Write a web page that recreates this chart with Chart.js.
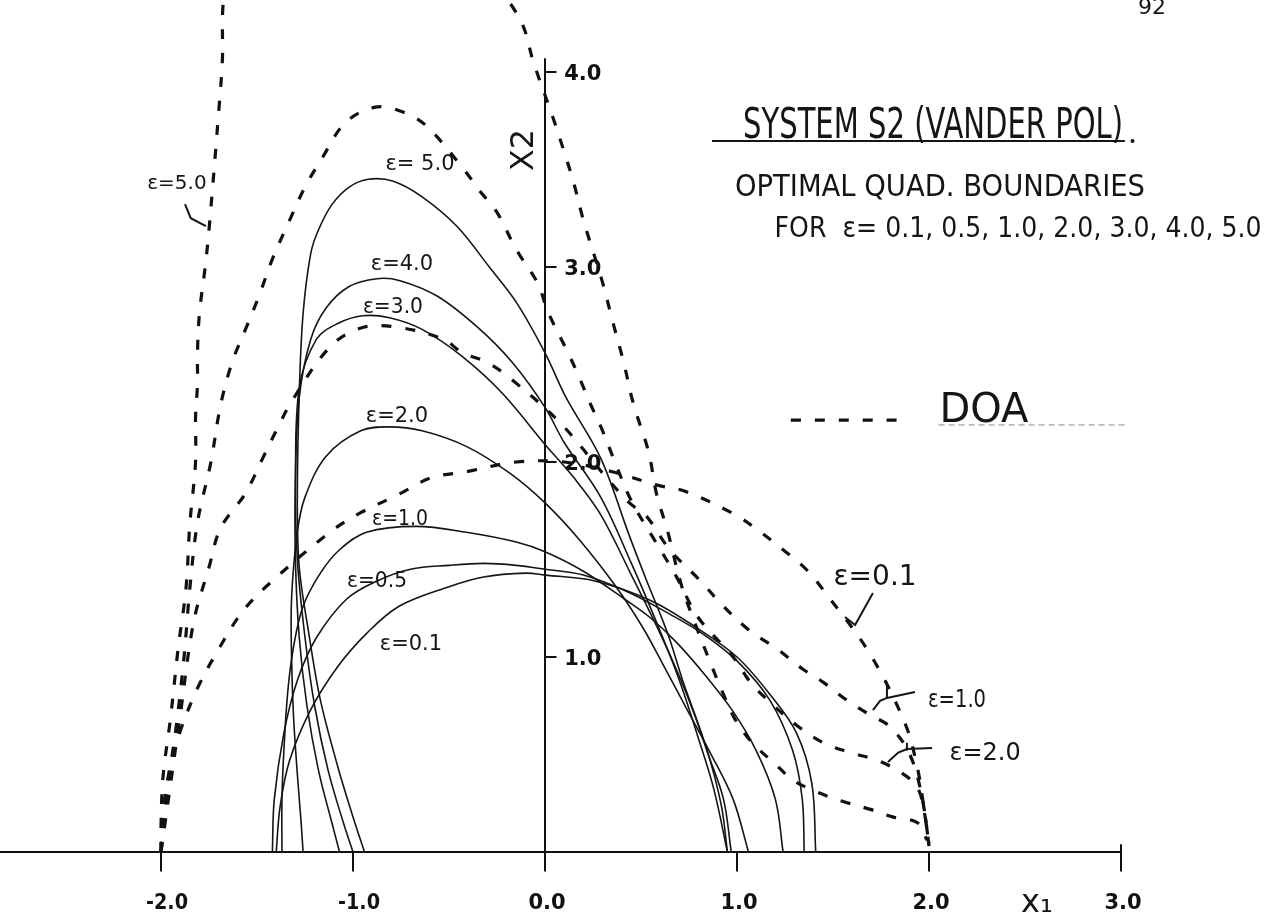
<!DOCTYPE html>
<html>
<head>
<meta charset="utf-8">
<script src="https://cdn.jsdelivr.net/npm/chart.js@4.4.1/dist/chart.umd.min.js"></script>
<style>
  html, body { margin: 0; padding: 0; background: #fff; }
  #grafico { width: 1268px; height: 913px; position: relative; }
</style>
</head>
<body>
<div id="grafico"><canvas id="tela"></canvas></div>
<script>
// curve ottimali (linee continue) per ogni epsilon, punti [x1, x2]
const eps01 = [[-1.40,0],[-1.38,0.23],[-1.33,0.47],[-1.22,0.73],[-1.08,0.95],[-0.93,1.12],[-0.76,1.26],[-0.5,1.36],[-0.32,1.41],[-0.1,1.43],[0,1.42],[0.26,1.39],[0.55,1.29],[0.79,1.15],[1.0,1.0],[1.17,0.81],[1.31,0.61],[1.39,0.35],[1.41,0]];
const eps05 = [[-1.42,0],[-1.41,0.27],[-1.36,0.61],[-1.29,0.88],[-1.19,1.10],[-1.03,1.30],[-0.875,1.39],[-0.70,1.45],[-0.5,1.47],[-0.32,1.48],[-0.15,1.47],[0,1.45],[0.20,1.42],[0.44,1.33],[0.65,1.22],[0.82,1.12],[1.0,0.98],[1.17,0.78],[1.29,0.52],[1.34,0.27],[1.35,0]];
const eps1 = [[-1.37,0],[-1.37,0.27],[-1.36,0.52],[-1.34,0.82],[-1.31,1.05],[-1.26,1.26],[-1.17,1.43],[-1.07,1.55],[-0.93,1.64],[-0.67,1.67],[-0.41,1.64],[-0.15,1.59],[0,1.54],[0.20,1.44],[0.41,1.30],[0.55,1.20],[0.69,1.07],[0.84,0.90],[0.98,0.72],[1.10,0.52],[1.20,0.27],[1.24,0]];
const eps2 = [[-1.26,0],[-1.27,0.15],[-1.29,0.4],[-1.31,0.7],[-1.32,1.0],[-1.32,1.3],[-1.29,1.64],[-1.25,1.82],[-1.14,2.03],[-0.96,2.16],[-0.81,2.18],[-0.64,2.16],[-0.41,2.08],[-0.18,1.94],[0,1.79],[0.18,1.60],[0.37,1.36],[0.51,1.15],[0.61,0.97],[0.74,0.73],[0.86,0.51],[0.98,0.27],[1.06,0]];
const eps3 = [[-1.07,0],[-1.11,0.15],[-1.18,0.42],[-1.24,0.75],[-1.28,1.1],[-1.30,1.5],[-1.30,1.9],[-1.28,2.38],[-1.19,2.63],[-1.08,2.71],[-0.95,2.75],[-0.81,2.74],[-0.64,2.68],[-0.43,2.54],[-0.22,2.35],[0,2.09],[0.15,1.92],[0.29,1.73],[0.45,1.42],[0.60,1.12],[0.70,0.9],[0.78,0.70],[0.85,0.5],[0.93,0.27],[0.97,0]];
const eps4 = [[-1.00,0],[-1.05,0.15],[-1.13,0.42],[-1.20,0.75],[-1.25,1.1],[-1.29,1.5],[-1.30,1.9],[-1.28,2.33],[-1.22,2.63],[-1.14,2.79],[-1.02,2.90],[-0.875,2.94],[-0.755,2.93],[-0.56,2.85],[-0.35,2.69],[-0.17,2.51],[0,2.28],[0.10,2.10],[0.29,1.82],[0.45,1.48],[0.58,1.18],[0.70,0.88],[0.80,0.58],[0.88,0.32],[0.95,0]];
const eps5 = [[-0.94,0],[-1.0,0.18],[-1.08,0.44],[-1.17,0.78],[-1.23,1.12],[-1.28,1.46],[-1.29,1.8],[-1.28,2.35],[-1.26,2.76],[-1.22,3.07],[-1.18,3.19],[-1.11,3.32],[-1.02,3.41],[-0.92,3.45],[-0.79,3.44],[-0.64,3.36],[-0.46,3.21],[-0.29,3.0],[-0.15,2.82],[0,2.56],[0.11,2.33],[0.29,2.02],[0.44,1.62],[0.53,1.39],[0.60,1.22],[0.65,1.09],[0.72,0.87],[0.79,0.68],[0.86,0.47],[0.92,0.23],[0.95,0]];

// DOA (tratteggiate)
const doa01 = [[-2.0,0],[-1.99,0.2],[-1.95,0.45],[-1.90,0.62],[-1.81,0.84],[-1.70,1.04],[-1.57,1.24],[-1.42,1.39],[-1.12,1.64],[-0.96,1.74],[-0.77,1.83],[-0.59,1.92],[-0.41,1.95],[-0.15,2.0],[0.1,2.0],[0.35,1.95],[0.59,1.88],[0.73,1.85],[0.99,1.73],[1.11,1.65],[1.24,1.55],[1.36,1.45],[1.46,1.33],[1.69,1.02],[1.875,0.66],[1.94,0.43],[1.97,0.25],[2.0,0.04]];
const doa1 = [[-2.0,0],[-1.95,0.35],[-1.90,0.7],[-1.83,1.18],[-1.75,1.46],[-1.69,1.66],[-1.56,1.84],[-1.47,2.02],[-1.39,2.18],[-1.32,2.31],[-1.12,2.59],[-0.95,2.69],[-0.76,2.69],[-0.53,2.63],[-0.43,2.56],[-0.30,2.51],[-0.17,2.42],[0.08,2.2],[0.32,1.92],[0.44,1.79],[0.53,1.72],[0.65,1.55],[0.82,1.38],[0.91,1.28],[1.06,1.14],[1.21,1.04],[1.34,0.94],[1.45,0.87],[1.57,0.78],[1.68,0.71],[1.80,0.64],[1.90,0.5],[1.96,0.3],[2.0,0.04]];
const doa2 = [[-2.0,0],[-1.97,0.3],[-1.92,0.65],[-1.88,1.0],[-1.85,1.35],[-1.81,1.69],[-1.74,2.0],[-1.69,2.29],[-1.63,2.51],[-1.56,2.68],[-1.49,2.85],[-1.42,3.04],[-1.33,3.24],[-1.25,3.41],[-1.16,3.56],[-1.04,3.74],[-0.885,3.82],[-0.755,3.80],[-0.625,3.73],[-0.43,3.51],[-0.34,3.39],[-0.25,3.28],[-0.15,3.09],[-0.04,2.92],[0.02,2.76],[0.12,2.56],[0.18,2.43],[0.24,2.29],[0.30,2.16],[0.36,2.01],[0.45,1.80],[0.57,1.60],[0.68,1.42],[0.80,1.20],[0.98,1.0],[1.07,0.87],[1.17,0.77],[1.31,0.65],[1.45,0.56],[1.59,0.51],[1.73,0.47],[1.85,0.41],[1.94,0.33],[1.98,0.18],[2.0,0.03]];
const doa5Sinistra = [[-2.0,0],[-2.0,0.13],[-1.99,0.38],[-1.95,0.69],[-1.91,1.05],[-1.87,1.35],[-1.85,1.68],[-1.82,2.0],[-1.82,2.23],[-1.81,2.40],[-1.81,2.56],[-1.80,2.76],[-1.77,3.0],[-1.75,3.19],[-1.70,3.79],[-1.68,4.07],[-1.68,4.28],[-1.67,4.45]];
const doa5Destra = [[-0.25,4.45],[-0.12,4.25],[-0.06,4.05],[0.04,3.77],[0.10,3.59],[0.15,3.43],[0.20,3.24],[0.30,2.92],[0.35,2.73],[0.41,2.51],[0.46,2.30],[0.54,2.05],[0.58,1.84],[0.64,1.64],[0.71,1.37],[0.79,1.15],[0.87,0.95],[0.92,0.83],[0.99,0.68],[1.08,0.56],[1.20,0.45],[1.29,0.37],[1.41,0.31],[1.55,0.26],[1.69,0.22],[1.81,0.18],[1.94,0.15],[1.99,0.06]];
const legendaDOA = [[1.28,2.215],[1.87,2.215]];

// assi
const xTicks = [-2, -1, 0, 1, 2, 3];
const xTickLabels = ['-2.0', '-1.0', '0.0', '1.0', '2.0', '3.0'];
const yTicks = [1, 2, 3, 4];
const yTickLabels = ['1.0', '2.0', '3.0', '4.0'];

// testi: [testo, x, y (linea di base, unita del grafico), dimensione, larghezza max]
const etichette = [
  ['ε= 5.0', -0.651, 3.497, 21, 76],
  ['ε=4.0', -0.745, 2.985, 21, 70],
  ['ε=3.0', -0.792, 2.764, 21, 60],
  ['ε=2.0', -0.771, 2.205, 21, 68],
  ['ε=1.0', -0.755, 1.677, 21, 56],
  ['ε=0.5', -0.875, 1.359, 21, 60],
  ['ε=0.1', -0.698, 1.036, 21, 64],
  ['ε=5.0', -1.917, 3.40, 20, 72],
  ['ε=0.1', 1.719, 1.369, 28, 90],
  ['ε=1.0', 2.146, 0.744, 24, 58],
  ['ε=2.0', 2.292, 0.472, 24, 76],
  ['DOA', 2.286, 2.205, 40, 90],
  ['SYSTEM S2 (VANDER POL)', 2.021, 3.66, 42, 380],
  ['OPTIMAL QUAD. BOUNDARIES', 2.057, 3.364, 31, 410],
  ['FOR  ε= 0.1, 0.5, 1.0, 2.0, 3.0, 4.0, 5.0', 2.464, 3.154, 28, 487],
  ['92', 3.161, 4.30, 22, 30],
  ['x₁', 2.5625, -0.31, 32, 40]
];

// frecce / richiami
const richiami = [
  [[-1.875,3.323],[-1.845,3.25],[-1.766,3.21]],
  [[1.5625,1.205],[1.615,1.164],[1.708,1.328]],
  [[1.708,0.728],[1.745,0.775],[1.781,0.790],[1.927,0.821]],
  [[1.781,0.872],[1.781,0.795]],
  [[1.786,0.462],[1.84,0.51],[1.885,0.528],[2.016,0.533]],
  [[1.885,0.56],[1.885,0.52]]
];

function punti(arr) {
  return arr.map(p => ({ x: p[0], y: p[1] }));
}

function continua(arr) {
  return { data: punti(arr), showLine: true, borderColor: '#151515', borderWidth: 1.6, pointRadius: 0, tension: 0.35, fill: false };
}

function tratteggio(arr) {
  return { data: punti(arr), showLine: true, borderColor: '#111', borderWidth: 3.2, borderDash: [10, 14], pointRadius: 0, tension: 0.35, fill: false };
}

const assiPlugin = {
  id: 'assi',
  beforeDatasetsDraw(chart) {
    const ctx = chart.ctx;
    const sx = chart.scales.x, sy = chart.scales.y;
    const X = v => sx.getPixelForValue(v), Y = v => sy.getPixelForValue(v);
    ctx.save();
    ctx.strokeStyle = '#111';
    ctx.lineWidth = 2;
    ctx.beginPath();
    ctx.moveTo(0, Y(0)); ctx.lineTo(X(3), Y(0));
    ctx.moveTo(X(0), Y(4.07)); ctx.lineTo(X(0), Y(-0.1));
    xTicks.forEach(t => {
      ctx.moveTo(X(t), Y(t === 3 ? 0.04 : 0)); ctx.lineTo(X(t), Y(-0.1));
    });
    yTicks.forEach(t => {
      ctx.moveTo(X(0), Y(t)); ctx.lineTo(X(0.06), Y(t));
    });
    ctx.stroke();
    // etichette dei tick
    ctx.fillStyle = '#111';
    ctx.font = 'bold 21px "DejaVu Sans"';
    ctx.textAlign = 'center';
    ctx.textBaseline = 'alphabetic';
    xTicks.forEach((t, i) => {
      ctx.fillText(xTickLabels[i], X(t) + (t < 0 ? 6 : 2), Y(-0.29), 42);
    });
    ctx.textAlign = 'left';
    yTicks.forEach((t, i) => {
      ctx.fillText(yTickLabels[i], X(0.1), Y(t) + 8, 40);
    });
    ctx.restore();
  },
  afterDatasetsDraw(chart) {
    const ctx = chart.ctx;
    const sx = chart.scales.x, sy = chart.scales.y;
    const X = v => sx.getPixelForValue(v), Y = v => sy.getPixelForValue(v);
    ctx.save();
    ctx.fillStyle = '#151515';
    ctx.strokeStyle = '#151515';
    ctx.textAlign = 'center';
    etichette.forEach(e => {
      ctx.font = e[3] + 'px "DejaVu Sans"';
      ctx.fillText(e[0], X(e[1]), Y(e[2]), e[4]);
    });
    // X2 ruotato
    ctx.save();
    ctx.translate(X(-0.06), Y(3.6));
    ctx.rotate(-Math.PI / 2);
    ctx.font = '32px "DejaVu Sans"';
    ctx.fillText('X2', 0, 0, 42);
    ctx.restore();
    // sottolineature
    ctx.lineWidth = 2;
    ctx.beginPath();
    ctx.moveTo(X(0.87), Y(3.646)); ctx.lineTo(X(3.02), Y(3.646));
    ctx.stroke();
    ctx.beginPath();
    ctx.arc(X(3.06), Y(3.646), 2, 0, Math.PI * 2);
    ctx.fill();
    ctx.lineWidth = 1;
    ctx.strokeStyle = '#888';
    ctx.setLineDash([6, 4]);
    ctx.beginPath();
    ctx.moveTo(X(2.05), Y(2.19)); ctx.lineTo(X(3.03), Y(2.19));
    ctx.stroke();
    ctx.setLineDash([]);
    // richiami
    ctx.strokeStyle = '#151515';
    ctx.lineWidth = 2;
    richiami.forEach(r => {
      ctx.beginPath();
      r.forEach((p, i) => i ? ctx.lineTo(X(p[0]), Y(p[1])) : ctx.moveTo(X(p[0]), Y(p[1])));
      ctx.stroke();
    });
    ctx.restore();
  }
};

new Chart(document.getElementById('tela'), {
  type: 'scatter',
  data: {
    datasets: [
      continua(eps01), continua(eps05), continua(eps1), continua(eps2),
      continua(eps3), continua(eps4), continua(eps5),
      tratteggio(doa01), tratteggio(doa1), tratteggio(doa2),
      tratteggio(doa5Sinistra), tratteggio(doa5Destra),
      tratteggio(legendaDOA)
    ]
  },
  options: {
    responsive: true,
    maintainAspectRatio: false,
    animation: false,
    layout: { padding: 0 },
    plugins: { legend: { display: false }, tooltip: { enabled: false } },
    scales: {
      x: { type: 'linear', display: false, min: -545 / 192, max: 723 / 192 },
      y: { type: 'linear', display: false, min: -61 / 195, max: 852 / 195 }
    }
  },
  plugins: [assiPlugin]
});
</script>
</body>
</html>
